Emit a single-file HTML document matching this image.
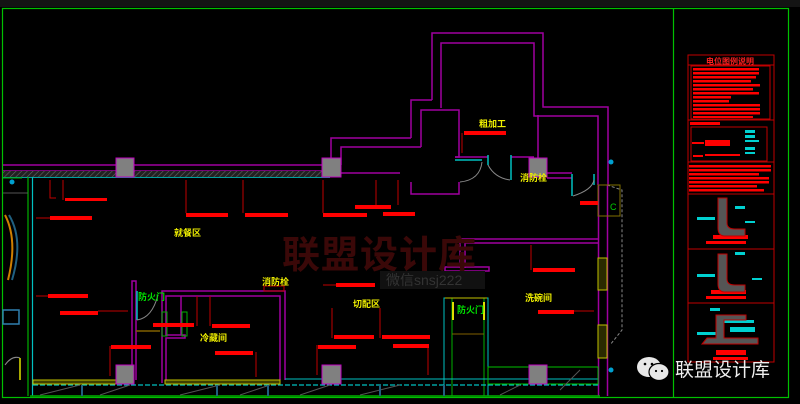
<!DOCTYPE html>
<html><head><meta charset="utf-8"><style>
html,body{margin:0;padding:0;background:#000;width:800px;height:404px;overflow:hidden}
svg{display:block}
text{font-family:"Liberation Sans","Noto Sans CJK SC",sans-serif}
</style></head><body>
<svg width="800" height="404" viewBox="0 0 800 404">
<defs>
<pattern id="h" width="4" height="4" patternUnits="userSpaceOnUse" patternTransform="rotate(45)"><rect width="4" height="4" fill="#222"/><line x1="0" y1="0" x2="0" y2="4" stroke="#666" stroke-width="1.2"/></pattern>
</defs>
<rect width="800" height="404" fill="#000"/>
<rect width="800" height="7" fill="#141414"/>
<rect x="2.5" y="8.5" width="786" height="389" fill="none" stroke="#00c000" stroke-width="1.2"/>
<line x1="673.5" y1="8" x2="673.5" y2="398" stroke="#00c000" stroke-width="1.2"/>

<g stroke="#a000a0" stroke-width="1.5" fill="none">
<line x1="3" y1="165" x2="322" y2="165"/>
<line x1="3" y1="171" x2="322" y2="171"/>
<polyline points="331,158 331,138 400,138"/>
<polyline points="341,165 341,147 400,147"/>
<line x1="341" y1="173" x2="400" y2="173"/>
<polyline points="432,100 432,33 543,33 543,107 608,107 608,185"/>
<polyline points="441,108 441,43 534,43 534,116 598,116 598,185"/>
<polyline points="411,138 411,100 432,100"/>
<polyline points="421,147 421,110 459,110 459,157 455,157"/>
<polyline points="400,138 411,138"/>
<polyline points="400,147 421,147"/>
<polyline points="411,182 411,194 459,194 459,182"/>
<polyline points="538,158 538,115"/>
<polyline points="455,157 488,157"/>
<polyline points="511,157 534,157"/>
<line x1="547" y1="173" x2="572" y2="173"/>
<line x1="547" y1="178" x2="572" y2="178"/>
</g>
<rect x="3" y="171" width="319" height="6" fill="url(#h)"/>
<line x1="3" y1="177.5" x2="330" y2="177.5" stroke="#00a0a0" stroke-width="1"/>
<rect x="116" y="158" width="18" height="19" fill="#808080" stroke="#c000c0"/>
<rect x="322" y="158" width="19" height="19" fill="#808080" stroke="#c000c0"/>
<rect x="529" y="158" width="18" height="19" fill="#808080" stroke="#c000c0"/>
<g stroke="#00c0c0" stroke-width="1.5" fill="none">
<line x1="455" y1="160" x2="482" y2="160"/>
<line x1="488" y1="155" x2="488" y2="165"/>
<line x1="511" y1="155" x2="511" y2="180"/>
<line x1="572" y1="174" x2="572" y2="196"/>
<line x1="594" y1="174" x2="594" y2="185"/>
</g>
<g stroke="#888" fill="none">
<path d="M482,162 Q480,180 460,182"/>
<path d="M488,165 Q495,178 510,180"/>
<path d="M573,196 Q592,190 594,180"/>
<path d="M607,185 L622,190 L622,330 L610,345" stroke-dasharray="3,2"/>
</g>

<g fill="none">
<line x1="28" y1="177" x2="28" y2="396" stroke="#00b000" stroke-width="1.2"/>
<line x1="32.5" y1="177" x2="32.5" y2="396" stroke="#00c0c0" stroke-width="1.2"/>
<line x1="3" y1="178" x2="22" y2="178" stroke="#00b000"/>
<line x1="3" y1="193" x2="28" y2="193" stroke="#555"/>
<path d="M5,215 Q18,240 8,280" stroke="#d08000" stroke-width="2"/>
<path d="M9,215 Q24,240 12,280" stroke="#206080" stroke-width="2"/>
<rect x="3" y="310" width="16" height="14" stroke="#3080b0" stroke-width="1.5"/>
<path d="M5,365 Q12,355 20,358" stroke="#888"/>
<line x1="20" y1="358" x2="20" y2="380" stroke="#e0e000" stroke-width="1.5"/>
</g>
<circle cx="12" cy="182" r="2.5" fill="#00a0d0"/>

<g stroke="#a000a0" stroke-width="1.5" fill="none">
<polyline points="132,380 132,281 136,281 136,380"/>
<polyline points="162,383 162,291 285,291 285,380"/>
<polyline points="166,383 166,338 185,338 185,335 166,335 166,296 280,296 280,380"/>
<line x1="181" y1="296" x2="181" y2="335"/>
<polyline points="460,268 460,239 598,239"/>
<polyline points="465,268 465,243 598,243"/>
<rect x="445" y="267" width="44" height="4"/>
</g>
<rect x="264" y="286" width="20" height="5" fill="none" stroke="#c00000"/>
<g fill="none">
<line x1="137" y1="291" x2="137" y2="320" stroke="#00c0c0" stroke-width="1.5"/>
<path d="M137,320 Q152,318 158,295" stroke="#888"/>
<line x1="136" y1="331" x2="160" y2="331" stroke="#806000" stroke-width="1.5"/>
<rect x="162" y="312" width="5" height="24" stroke="#00b000"/>
<rect x="182" y="312" width="5" height="24" stroke="#00b000"/>
<rect x="444" y="298" width="44" height="98" stroke="#00c0c0"/>
<rect x="452" y="298" width="32" height="98" stroke="#00b000"/>
<line x1="453" y1="302" x2="453" y2="320" stroke="#e0e000" stroke-width="2"/>
<line x1="484" y1="302" x2="484" y2="320" stroke="#e0e000" stroke-width="2"/>
<line x1="452" y1="334" x2="484" y2="334" stroke="#806000"/>
<line x1="445" y1="298" x2="487" y2="298" stroke="#c0c000"/>
</g>

<g fill="none">
<line x1="598.5" y1="185" x2="598.5" y2="396" stroke="#a000a0" stroke-width="1.5"/>
<line x1="607.5" y1="185" x2="607.5" y2="396" stroke="#a000a0" stroke-width="1.5"/>
<rect x="598" y="258" width="9" height="32" stroke="#c0c000" fill="#2a2a00"/>
<rect x="598" y="325" width="9" height="33" stroke="#c0c000" fill="#2a2a00"/>
<rect x="598" y="185" width="22" height="31" stroke="#807000"/>
<text x="610" y="210" font-size="9" fill="#00d000">C</text>
</g>
<circle cx="611" cy="162" r="2.5" fill="#00a0d0"/>
<circle cx="611" cy="370" r="2.5" fill="#00a0d0"/>

<g fill="none">
<line x1="33" y1="385" x2="598" y2="385" stroke="#00c0c0" stroke-width="1.2" stroke-dasharray="5,2"/>
<rect x="33" y="380" width="83" height="4" stroke="#c0c000" fill="#404000"/>
<rect x="165" y="380" width="115" height="4" stroke="#c0c000" fill="#404000"/>
<line x1="285" y1="379" x2="598" y2="379" stroke="#00c0c0"/>
<rect x="488" y="367" width="110" height="17" stroke="#00c000"/>
<line x1="30" y1="396" x2="600" y2="396" stroke="#00b000" stroke-width="1.5"/>
<path d="M40,395 L80,385 M100,395 L130,385 M180,395 L220,385 M240,395 L270,385 M300,395 L330,385 M360,395 L400,385 M500,395 L520,385 M560,390 L580,370" stroke="#555"/>
<line x1="82" y1="385" x2="82" y2="396" stroke="#206080" stroke-width="2"/>
<line x1="217" y1="385" x2="217" y2="396" stroke="#206080" stroke-width="2"/>
<line x1="268" y1="385" x2="268" y2="396" stroke="#206080" stroke-width="2"/>
<line x1="380" y1="385" x2="380" y2="396" stroke="#206080" stroke-width="2"/>
<line x1="444" y1="385" x2="444" y2="396" stroke="#206080" stroke-width="2"/>
</g>
<rect x="116" y="365" width="18" height="19" fill="#808080" stroke="#c000c0"/>
<rect x="322" y="365" width="19" height="19" fill="#808080" stroke="#c000c0"/>
<rect x="529" y="365" width="18" height="19" fill="#808080" stroke="#c000c0"/>

<g stroke="#c00000" fill="none" stroke-width="1">
<path d="M50,180 v18 h6"/><path d="M63,180 v20"/><path d="M186,180 v33"/><path d="M243,180 v33"/>
<path d="M323,180 v33"/><path d="M376,180 v25"/><path d="M398,180 v25"/>
<path d="M36,218 h14"/><path d="M36,296 h12"/><path d="M98,311 h30"/>
<path d="M110,346 v30"/><path d="M197,296 v30"/><path d="M210,296 v30"/>
<path d="M256,352 v25"/><path d="M317,345 v30"/><path d="M332,308 v30"/><path d="M380,308 v30"/>
<path d="M428,345 v30"/><path d="M323,285 h13"/><path d="M531,245 v25"/><path d="M574,311 h20"/>
<path d="M462,133 v20"/>
</g>
<g fill="#ff0000">
<rect x="50" y="216" width="42" height="4"/><rect x="65" y="198" width="42" height="3"/>
<rect x="186" y="213" width="42" height="4"/><rect x="245" y="213" width="43" height="4"/>
<rect x="323" y="213" width="44" height="4"/><rect x="355" y="205" width="36" height="4"/>
<rect x="383" y="212" width="32" height="4"/><rect x="580" y="201" width="18" height="4"/>
<rect x="48" y="294" width="40" height="4"/><rect x="60" y="311" width="38" height="4"/>
<rect x="111" y="345" width="40" height="4"/><rect x="153" y="323" width="41" height="4"/>
<rect x="212" y="324" width="38" height="4"/><rect x="215" y="351" width="38" height="4"/>
<rect x="318" y="345" width="38" height="4"/><rect x="334" y="335" width="40" height="4"/>
<rect x="382" y="335" width="28" height="4"/><rect x="393" y="344" width="36" height="4"/>
<rect x="336" y="283" width="39" height="4"/><rect x="533" y="268" width="42" height="4"/>
<rect x="538" y="310" width="36" height="4"/><rect x="464" y="131" width="42" height="4"/>
<rect x="400" y="335" width="30" height="4"/>
</g>

<g font-size="9" font-weight="bold" fill="#f0f000">
<text x="174" y="236">就餐区</text>
<text x="200" y="341">冷藏间</text>
<text x="262" y="285">消防栓</text>
<text x="353" y="307">切配区</text>
<text x="525" y="301">洗碗间</text>
<text x="479" y="127">粗加工</text>
<text x="520" y="181">消防栓</text>
</g>
<g font-size="9" font-weight="bold" fill="#00e000">
<text x="138" y="300">防火门</text>
<text x="457" y="313">防火门</text>
</g>

<text x="282" y="268" font-size="38" font-weight="bold" fill="#3a0808" letter-spacing="1">联盟设计库</text>
<rect x="380" y="271" width="105" height="18" fill="#111"/>
<text x="386" y="285" font-size="14" fill="#333">微信snsj222</text>

<g fill="none" stroke="#c00000">
<rect x="688" y="55" width="86" height="307"/>
<line x1="688" y1="65" x2="774" y2="65"/>
<rect x="691" y="66" width="79" height="53"/>
<line x1="688" y1="120" x2="774" y2="120"/>
<rect x="691" y="127" width="76" height="34"/>
<line x1="688" y1="162" x2="774" y2="162"/>
<line x1="688" y1="194" x2="774" y2="194"/>
<line x1="688" y1="249" x2="774" y2="249"/>
<line x1="688" y1="303" x2="774" y2="303"/>
</g>
<text x="706" y="64" font-size="8" font-weight="bold" fill="#ff2020">电位图例说明</text>
<g fill="#ff0000">
<rect x="693" y="68" width="66" height="2.5"/><rect x="693" y="72" width="66" height="2.5"/><rect x="693" y="76" width="63" height="2.5"/>
<rect x="693" y="80" width="58" height="2.5"/><rect x="693" y="84" width="67" height="2.5"/><rect x="693" y="88" width="60" height="2.5"/>
<rect x="693" y="92" width="66" height="2.5"/><rect x="693" y="96" width="38" height="2.5"/><rect x="693" y="100" width="36" height="2.5"/>
<rect x="693" y="104" width="67" height="2.5"/><rect x="693" y="108" width="67" height="2.5"/><rect x="693" y="112" width="67" height="2.5"/><rect x="693" y="116" width="60" height="2"/>
<rect x="690" y="122" width="30" height="3"/>
<rect x="705" y="140" width="25" height="6"/><rect x="692" y="142" width="12" height="2"/><rect x="693" y="155" width="10" height="2"/><rect x="705" y="154" width="35" height="2"/>
<rect x="689" y="165" width="82" height="2.5"/><rect x="689" y="169" width="82" height="2.5"/><rect x="689" y="173" width="70" height="2.5"/><rect x="689" y="177" width="80" height="2.5"/><rect x="689" y="181" width="80" height="2.5"/><rect x="689" y="185" width="68" height="2.5"/><rect x="689" y="189" width="75" height="2.5"/>
<rect x="713" y="235" width="35" height="4"/><rect x="706" y="241" width="40" height="3"/>
<rect x="711" y="290" width="35" height="4"/><rect x="706" y="296" width="40" height="3"/>
<rect x="716" y="350" width="30" height="5"/><rect x="713" y="357" width="35" height="3"/>
</g>
<g fill="#00d0d0">
<rect x="745" y="130" width="10" height="3"/><rect x="745" y="135" width="10" height="3"/><rect x="745" y="140" width="14" height="2"/><rect x="745" y="147" width="10" height="3"/><rect x="745" y="152" width="10" height="2"/>
<rect x="735" y="206" width="10" height="3"/><rect x="697" y="217" width="18" height="3"/><rect x="745" y="221" width="10" height="2"/>
<rect x="735" y="252" width="10" height="3"/><rect x="697" y="274" width="18" height="3"/><rect x="752" y="278" width="10" height="2"/>
<rect x="710" y="308" width="10" height="3"/><rect x="724" y="320" width="30" height="3"/><rect x="697" y="332" width="20" height="3"/><rect x="730" y="327" width="25" height="5"/>
</g>
<g fill="#555" stroke="#c00000">
<path d="M718,198 h9 v25 q0,6 8,6 h10 v7 h-20 q-7,0 -7,-8 z"/>
<path d="M718,254 h9 v25 q0,6 8,6 h10 v7 h-20 q-7,0 -7,-8 z"/>
<path d="M716,315 h30 v5 h-22 v18 h34 v6 h-56 l5,-6 h9 z"/>
</g>

<g fill="#e8e8e8">
<ellipse cx="649" cy="367" rx="12" ry="10"/>
<ellipse cx="659" cy="372" rx="10" ry="8.5" stroke="#000" stroke-width="1.2"/>
</g>
<g fill="#000"><circle cx="645" cy="364" r="1.3"/><circle cx="652" cy="364" r="1.3"/><circle cx="656" cy="371" r="1.1"/><circle cx="662" cy="371" r="1.1"/></g>
<text x="675" y="376" font-size="19" fill="#eeeeee">联盟设计库</text>
</svg>
</body></html>
